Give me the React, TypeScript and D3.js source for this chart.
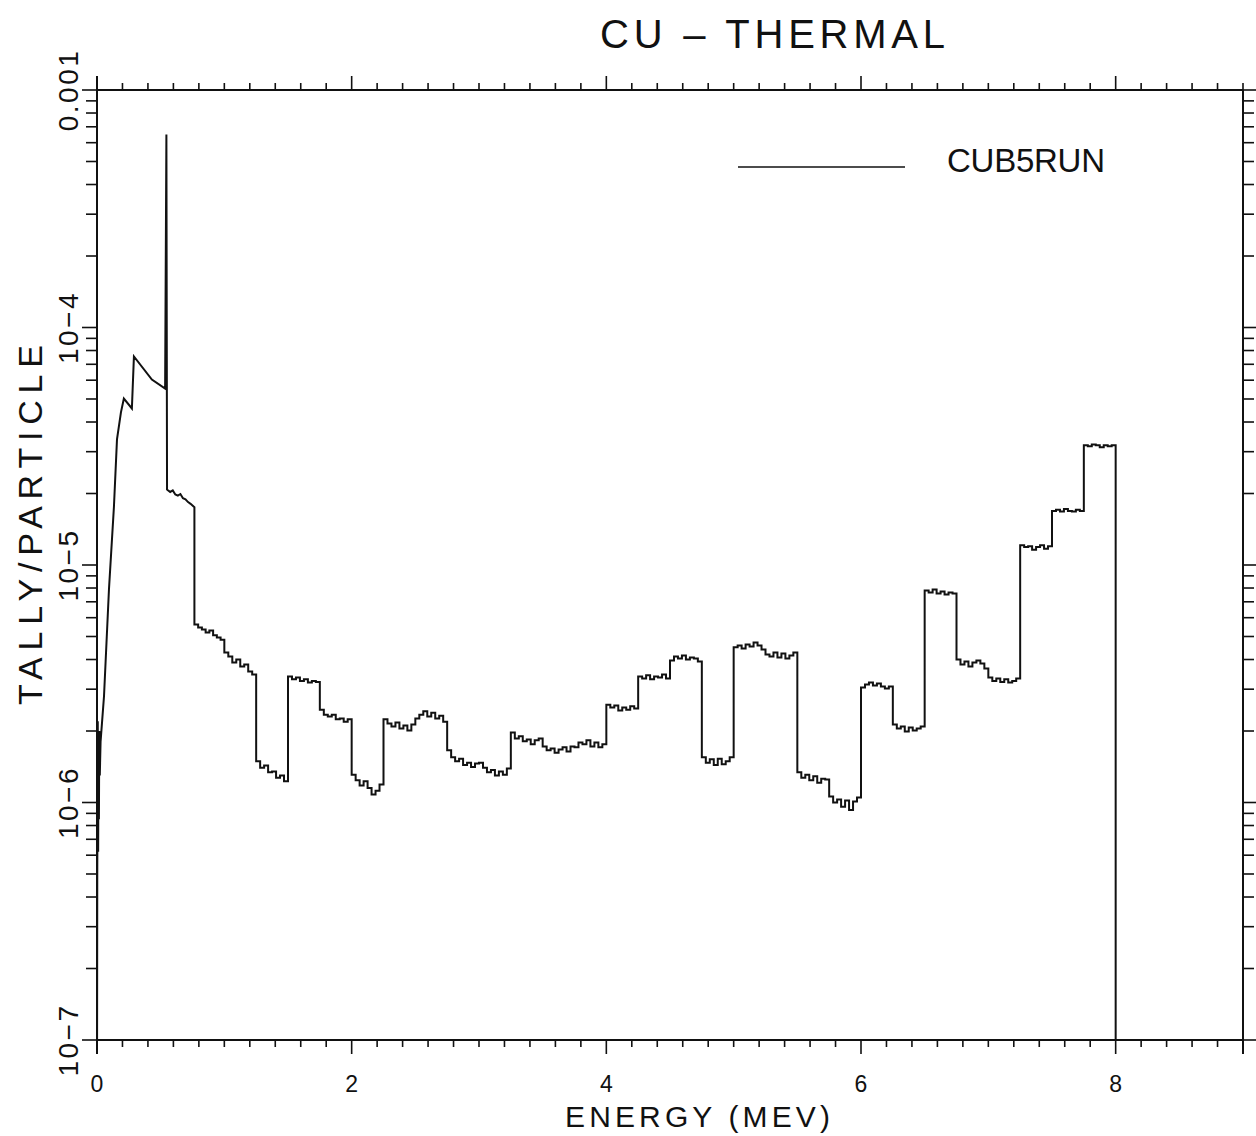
import React, { useRef, useEffect } from 'react';
import * as d3 from 'd3';

// energy in MeV, tally/particle in units of 1e-6
const lowEnergy: [number, number][] = [
  [0.0, 0.05], [0.002, 0.47], [0.006, 2.2], [0.009, 0.62], [0.012, 1.9],
  [0.015, 0.85], [0.018, 2.0], [0.022, 1.3], [0.028, 1.8], [0.055, 2.8],
  [0.094, 7.9], [0.133, 17.6], [0.157, 33.8], [0.188, 43.9], [0.211, 50.2],
  [0.274, 45.6], [0.29, 75.5], [0.431, 60.4], [0.535, 55.3], [0.545, 650],
  [0.55, 20.8], [0.575, 20.3], [0.595, 20.6], [0.615, 19.8], [0.635, 19.6],
  [0.655, 19.9], [0.675, 19.1], [0.695, 18.9], [0.715, 18.4], [0.735, 18.1], [0.765, 17.5]
];

const binStarts = [
  0.765, 1.0, 1.25, 1.5, 1.75, 2.0, 2.25, 2.5, 2.75, 3.0, 3.25, 3.5, 3.75, 4.0, 4.25,
  4.5, 4.75, 5.0, 5.25, 5.5, 5.75, 6.0, 6.25, 6.5, 6.75, 7.0, 7.25, 7.5, 7.75
];
const binEnd = 8.0;

const binChannels: number[][] = [
  [5.62, 5.46, 5.35, 5.20, 5.30, 5.06, 4.95, 4.85],
  [4.28, 4.12, 3.89, 4.00, 3.74, 3.81, 3.56, 3.46],
  [1.49, 1.40, 1.43, 1.34, 1.35, 1.27, 1.30, 1.23],
  [3.39, 3.30, 3.36, 3.25, 3.30, 3.20, 3.25, 3.22],
  [2.46, 2.34, 2.30, 2.34, 2.24, 2.26, 2.19, 2.24],
  [1.31, 1.24, 1.18, 1.23, 1.15, 1.08, 1.12, 1.19],
  [2.24, 2.15, 2.09, 2.17, 2.05, 2.11, 2.01, 2.13],
  [2.26, 2.34, 2.42, 2.30, 2.39, 2.26, 2.32, 2.19],
  [1.66, 1.55, 1.49, 1.53, 1.44, 1.47, 1.41, 1.46],
  [1.47, 1.40, 1.34, 1.37, 1.30, 1.35, 1.31, 1.39],
  [1.97, 1.86, 1.90, 1.81, 1.84, 1.76, 1.83, 1.86],
  [1.72, 1.66, 1.69, 1.62, 1.67, 1.71, 1.64, 1.72],
  [1.71, 1.79, 1.76, 1.83, 1.72, 1.79, 1.71, 1.76],
  [2.58, 2.51, 2.56, 2.44, 2.51, 2.46, 2.54, 2.49],
  [3.39, 3.33, 3.43, 3.30, 3.39, 3.36, 3.46, 3.33],
  [3.96, 4.12, 4.04, 4.16, 4.00, 4.08, 4.04, 3.92],
  [1.55, 1.47, 1.52, 1.44, 1.53, 1.45, 1.49, 1.55],
  [4.50, 4.58, 4.45, 4.63, 4.54, 4.72, 4.58, 4.41],
  [4.20, 4.12, 4.28, 4.08, 4.24, 4.04, 4.16, 4.28],
  [1.34, 1.27, 1.31, 1.24, 1.29, 1.21, 1.26, 1.25],
  [1.06, 1.00, 1.03, 0.96, 1.02, 0.93, 1.01, 1.05],
  [3.05, 3.14, 3.20, 3.11, 3.17, 3.08, 3.02, 3.08],
  [2.13, 2.05, 2.09, 1.99, 2.07, 2.01, 2.05, 2.09],
  [7.81, 7.66, 7.89, 7.59, 7.74, 7.51, 7.66, 7.59],
  [4.00, 3.81, 3.92, 3.74, 3.89, 3.96, 3.85, 3.67],
  [3.36, 3.25, 3.33, 3.22, 3.30, 3.20, 3.25, 3.33],
  [12.1, 11.9, 12.0, 11.6, 11.9, 12.1, 11.7, 12.0],
  [16.9, 17.1, 16.8, 17.2, 16.9, 16.8, 17.1, 16.9],
  [31.9, 31.6, 32.2, 31.9, 31.3, 31.9, 31.6, 31.9]
];
const tailValue = 0.05; // drops below the axis after the last bin

const xLabelTicks = [0, 2, 4, 6, 8];
const yLabelTicks = [1e-7, 1e-6, 1e-5, 1e-4, 1e-3];
const yLabelText = ['10\u22127', '10\u22126', '10\u22125', '10\u22124', '0.001'];

const title = 'CU  \u2013  THERMAL';
const xTitle = 'ENERGY  (MEV)';
const yTitle = 'TALLY/PARTICLE';
const legendName = 'CUB5RUN';

const App = () => {
  const svgRef = useRef<SVGSVGElement>(null);

  useEffect(() => {
    const svg = d3.select(svgRef.current);
    svg.selectAll('*').remove();

    const W = 1256, H = 1136;
    const left = 97, right = 1243, top = 90, bottom = 1040;
    const font = "'Liberation Sans', Arial, sans-serif";
    const ink = '#111';

    svg.attr('width', W).attr('height', H);
    svg.append('rect').attr('width', W).attr('height', H).attr('fill', '#fff');

    const x = d3.scaleLinear().domain([0, 9]).range([left, right]);
    const y = d3.scaleLog().domain([1e-7, 1e-3]).range([bottom, top]);

    // build the spectrum points (each channel drawn as a flat step)
    const pts: [number, number][] = lowEnergy.map(d => [d[0], d[1] * 1e-6]);
    binStarts.forEach((s, b) => {
      const ch = binChannels[b];
      const e = b < binStarts.length - 1 ? binStarts[b + 1] : binEnd;
      const w = (e - s) / ch.length;
      ch.forEach((v, i) => {
        pts.push([s + i * w, v * 1e-6]);
        pts.push([s + (i + 1) * w, v * 1e-6]);
      });
    });
    pts.push([binEnd, tailValue * 1e-6]);

    svg.append('clipPath').attr('id', 'plotclip')
      .append('rect')
      .attr('x', left).attr('y', top)
      .attr('width', right - left).attr('height', bottom - top);

    const line = d3.line<[number, number]>()
      .x(d => x(d[0]))
      .y(d => y(Math.max(d[1], 1e-8)));

    svg.append('path')
      .attr('d', line(pts))
      .attr('fill', 'none')
      .attr('stroke', ink)
      .attr('stroke-width', 2)
      .attr('clip-path', 'url(#plotclip)');

    // frame
    const axisG = svg.append('g').attr('stroke', ink).attr('stroke-width', 2);
    axisG.append('line').attr('x1', left).attr('x2', left).attr('y1', top - 14).attr('y2', bottom + 14);
    axisG.append('line').attr('x1', right).attr('x2', right).attr('y1', top).attr('y2', bottom + 14);
    axisG.append('line').attr('x1', left).attr('x2', right).attr('y1', top).attr('y2', top);
    axisG.append('line').attr('x1', left).attr('x2', right).attr('y1', bottom).attr('y2', bottom);

    // x ticks, every 0.2 MeV, longer every 2 MeV
    const xTicks = d3.range(0, 9.0001, 0.2).map(v => Math.round(v * 10) / 10);
    xTicks.forEach(v => {
      const major = Math.abs(v / 2 - Math.round(v / 2)) < 1e-6;
      const len = major ? 14 : 7;
      axisG.append('line').attr('x1', x(v)).attr('x2', x(v))
        .attr('y1', bottom).attr('y2', bottom + len).attr('stroke-width', 1.6);
      axisG.append('line').attr('x1', x(v)).attr('x2', x(v))
        .attr('y1', top).attr('y2', top - len).attr('stroke-width', 1.6);
    });

    // y ticks, log decades
    const yTicks = y.ticks();
    yTicks.forEach(v => {
      const major = Math.abs(Math.log10(v) - Math.round(Math.log10(v))) < 1e-6;
      const len = major ? 15 : 11;
      axisG.append('line').attr('x1', left).attr('x2', left - len)
        .attr('y1', y(v)).attr('y2', y(v)).attr('stroke-width', 1.6);
      axisG.append('line').attr('x1', right).attr('x2', right + len)
        .attr('y1', y(v)).attr('y2', y(v)).attr('stroke-width', 1.6);
    });

    const txt = svg.append('g').attr('fill', ink).style('font-family', font);

    xLabelTicks.forEach(v => {
      txt.append('text')
        .attr('x', x(v)).attr('y', 1092)
        .attr('text-anchor', 'middle')
        .style('font-size', '23px')
        .text(String(v));
    });

    yLabelTicks.forEach((v, i) => {
      txt.append('text')
        .attr('transform', `translate(78,${y(v)}) rotate(-90)`)
        .attr('text-anchor', 'middle')
        .style('font-size', '28px')
        .style('letter-spacing', '2.5px')
        .text(yLabelText[i]);
    });

    txt.append('text')
      .attr('x', 600).attr('y', 48)
      .attr('textLength', 345).attr('lengthAdjust', 'spacing')
      .style('font-size', '40px')
      .text(title);

    txt.append('text')
      .attr('x', 565).attr('y', 1127)
      .attr('textLength', 265).attr('lengthAdjust', 'spacing')
      .style('font-size', '30px')
      .text(xTitle);

    txt.append('text')
      .attr('transform', 'translate(42,705) rotate(-90)')
      .attr('textLength', 360).attr('lengthAdjust', 'spacing')
      .style('font-size', '34px')
      .text(yTitle);

    // legend
    svg.append('line')
      .attr('x1', 738).attr('x2', 905).attr('y1', 167).attr('y2', 167)
      .attr('stroke', ink).attr('stroke-width', 1.6);
    txt.append('text')
      .attr('x', 947).attr('y', 172)
      .attr('textLength', 158).attr('lengthAdjust', 'spacing')
      .style('font-size', '33px')
      .text(legendName);
  }, []);

  return (
    <svg ref={svgRef} style={{ position: 'absolute', left: 0, top: 0, display: 'block' }} />
  );
};

export default App;
